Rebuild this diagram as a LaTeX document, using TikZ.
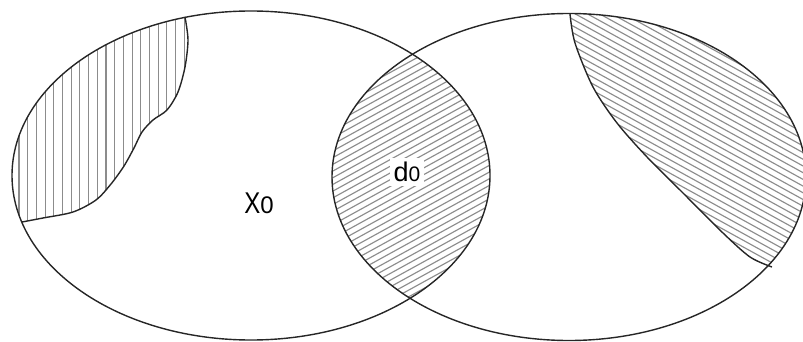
\documentclass[tikz,border=0pt]{standalone}
\usepackage{fontspec}
\setmainfont{Liberation Sans}
\begin{document}
\begin{tikzpicture}[x=1pt,y=-1pt,
  outline/.style={draw=black!85, line width=1.4pt},
  hatch/.style={draw=black!45, line width=1.15pt},
  lbl/.style={inner sep=4pt}]
\useasboundingbox (0,0) rectangle (803,342);
% left hatched region (vertical lines)
\begin{scope}
  \clip (251,175.5) ellipse [x radius=239, y radius=164.5];
  \clip (186,0) -- plot[smooth] coordinates {(185,17) (188,40) (185,67) (178,92) (167,110) (153,120) (142,132) (134,148) (124,166) (111,184) (96,200) (73,212) (43,218) (22,222)} -- (0,240) -- (0,0) -- cycle;
  \foreach \x in {19,27.7,...,200} \draw[hatch] (\x,0) -- (\x,342);
\end{scope}
% lens (intersection) hatched region
\begin{scope}
  \clip (251,175.5) ellipse [x radius=239, y radius=164.5];
  \clip (569,177) ellipse [x radius=237, y radius=163.5];
  \foreach \c in {200,206.7,...,640} \draw[hatch] (300,\c-165) -- (520,\c-286);
\end{scope}
% right hatched region
\begin{scope}
  \clip (569,177) ellipse [x radius=237, y radius=163.5];
  \clip (565,0) -- plot[smooth] coordinates {(570,14) (575,43) (593,87) (617,123) (647,157) (683,193) (723,233) (750,257) (772,267)} -- (790,290) -- (850,290) -- (850,0) -- cycle;
  \foreach \c in {-470,-463.3,...,-80} \draw[hatch] (550,\c+302.5) -- (820,\c+451);
\end{scope}
% boundary curves
\draw[outline] plot[smooth] coordinates {(185,17) (188,40) (185,67) (178,92) (167,110) (153,120) (142,132) (134,148) (124,166) (111,184) (96,200) (73,212) (43,218) (22,222)};
\draw[outline] plot[smooth] coordinates {(570,14) (575,43) (593,87) (617,123) (647,157) (683,193) (723,233) (750,257) (772,267)};
% ellipses
\draw[outline] (251,175.5) ellipse [x radius=239, y radius=164.5];
\draw[outline] (569,177) ellipse [x radius=237, y radius=163.5];
% labels
\node[lbl] (xzero) at (259,203) {\scalebox{0.8}[1]{\fontsize{30pt}{30pt}\selectfont X}{\fontsize{24pt}{24pt}\selectfont 0}};
\node[lbl, fill=white] (dzero) at (407,172) {{\fontsize{27pt}{27pt}\selectfont d}{\fontsize{21pt}{21pt}\selectfont 0}};
\end{tikzpicture}
\end{document}
